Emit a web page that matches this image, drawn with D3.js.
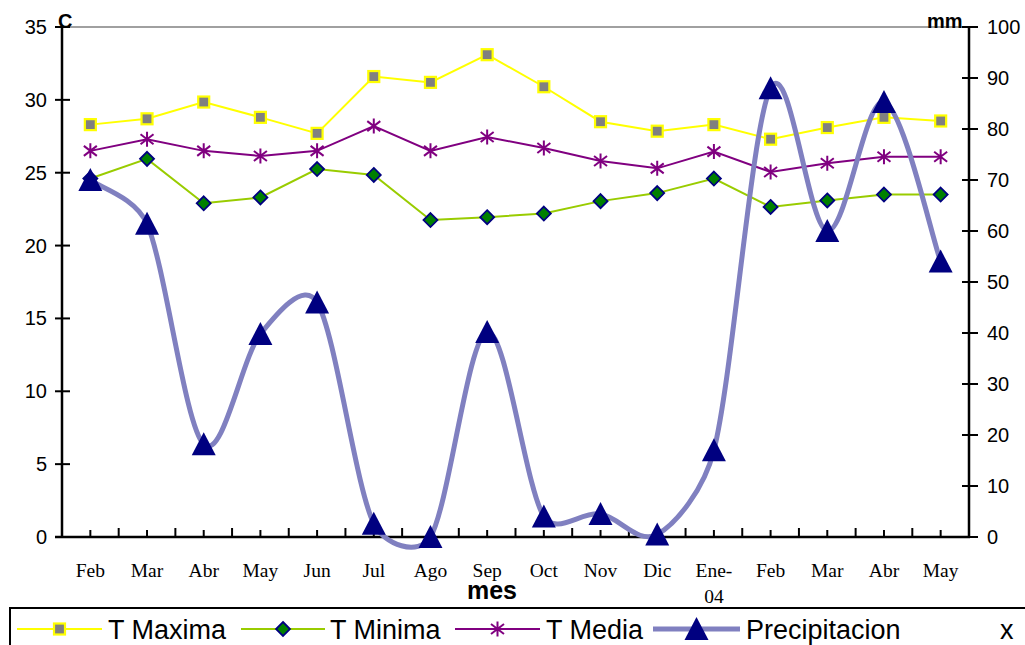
<!DOCTYPE html>
<html>
<head>
<meta charset="utf-8">
<script src="https://cdn.jsdelivr.net/npm/d3@7"></script>
<style>
  html, body { margin: 0; padding: 0; background: #fff; overflow: hidden; }
  svg { display: block; }
</style>
</head>
<body>
<svg id="chart" width="1025" height="645"></svg>
<script>
// Monthly climate record: temperatures (°C, left axis) and rainfall (mm, right axis)
const months = ["Feb", "Mar", "Abr", "May", "Jun", "Jul", "Ago", "Sep", "Oct", "Nov", "Dic", "Ene-04", "Feb", "Mar", "Abr", "May"];
const tMaxima = [28.3, 28.7, 29.85, 28.8, 27.7, 31.6, 31.2, 33.1, 30.9, 28.5, 27.85, 28.3, 27.3, 28.1, 28.8, 28.55];
const tMinima = [24.6, 25.95, 22.9, 23.3, 25.25, 24.85, 21.75, 21.95, 22.2, 23.05, 23.6, 24.6, 22.65, 23.1, 23.5, 23.5];
const tMedia = [26.5, 27.3, 26.5, 26.15, 26.5, 28.2, 26.5, 27.45, 26.7, 25.8, 25.3, 26.45, 25.05, 25.65, 26.1, 26.1];
const precipitacion = [70, 61.4, 18.2, 39.8, 46, 2.6, 0, 40.2, 4, 4.5, 0.5, 17, 88, 60, 85.3, 54];
const leftTicks = [0, 5, 10, 15, 20, 25, 30, 35];
const rightTicks = [0, 10, 20, 30, 40, 50, 60, 70, 80, 90, 100];

const svg = d3.select("#chart");
const plot = { left: 62, right: 969, top: 27, bottom: 537 };
const sans = "'Liberation Sans', Arial, sans-serif";
const serif = "'Liberation Serif', 'Times New Roman', serif";

const x = d3.scaleBand().domain(d3.range(months.length)).range([plot.left, plot.right]).padding(0);
const cx = i => x(i) + x.bandwidth() / 2;
const yL = d3.scaleLinear().domain([0, 35]).range([plot.bottom, plot.top]);
const yR = d3.scaleLinear().domain([0, 100]).range([plot.bottom, plot.top]);

// top border of plot area
svg.append("line")
  .attr("x1", plot.left).attr("x2", plot.right)
  .attr("y1", plot.top).attr("y2", plot.top)
  .attr("stroke", "#808080").attr("stroke-width", 1.5);

// left axis
const gL = svg.append("g");
gL.append("line").attr("x1", plot.left).attr("x2", plot.left)
  .attr("y1", plot.top).attr("y2", plot.bottom)
  .attr("stroke", "#000").attr("stroke-width", 2.5);
gL.selectAll("line.tk").data(leftTicks).join("line").attr("class", "tk")
  .attr("x1", plot.left - 7).attr("x2", plot.left + 8)
  .attr("y1", d => yL(d)).attr("y2", d => yL(d))
  .attr("stroke", "#000").attr("stroke-width", 2);
gL.selectAll("text").data(leftTicks).join("text")
  .attr("x", 47).attr("y", d => yL(d) + 7)
  .attr("text-anchor", "end")
  .attr("font-family", sans).attr("font-size", 20)
  .text(d => d);

// right axis
const gR = svg.append("g");
gR.append("line").attr("x1", plot.right).attr("x2", plot.right)
  .attr("y1", plot.top).attr("y2", plot.bottom)
  .attr("stroke", "#000").attr("stroke-width", 2.5);
gR.selectAll("line.tk").data(rightTicks).join("line").attr("class", "tk")
  .attr("x1", plot.right - 7).attr("x2", plot.right + 9)
  .attr("y1", d => yR(d)).attr("y2", d => yR(d))
  .attr("stroke", "#000").attr("stroke-width", 2);
gR.selectAll("text").data(rightTicks).join("text")
  .attr("x", 987).attr("y", d => yR(d) + 7)
  .attr("text-anchor", "start")
  .attr("font-family", sans).attr("font-size", 20)
  .text(d => d);

// bottom axis with tick marks at category edges and centers
const gB = svg.append("g");
gB.append("line").attr("x1", plot.left - 7).attr("x2", plot.right + 1)
  .attr("y1", plot.bottom).attr("y2", plot.bottom)
  .attr("stroke", "#000").attr("stroke-width", 2.5);
const edgeTicks = d3.range(1, months.length).map(i => x(i));
gB.selectAll("line.edge").data(edgeTicks).join("line").attr("class", "edge")
  .attr("x1", d => d).attr("x2", d => d)
  .attr("y1", plot.bottom).attr("y2", plot.bottom - 9)
  .attr("stroke", "#000").attr("stroke-width", 2);
gB.selectAll("line.mid").data(d3.range(months.length)).join("line").attr("class", "mid")
  .attr("x1", i => cx(i)).attr("x2", i => cx(i))
  .attr("y1", plot.bottom).attr("y2", plot.bottom - 7)
  .attr("stroke", "#000").attr("stroke-width", 2);
const labels = gB.selectAll("text").data(months).join("text")
  .attr("x", (d, i) => cx(i)).attr("y", 577)
  .attr("text-anchor", "middle")
  .attr("font-family", serif).attr("font-size", 19.5);
labels.each(function(d) {
  const parts = d.includes("-") ? [d.split("-")[0] + "-", d.split("-")[1]] : [d];
  const t = d3.select(this);
  parts.forEach((p, k) => {
    t.append("tspan").attr("x", t.attr("x")).attr("dy", k === 0 ? 0 : 26).text(p);
  });
});

// axis titles
svg.append("text").attr("x", 58).attr("y", 28)
  .attr("font-family", sans).attr("font-weight", "bold").attr("font-size", 20).text("C");
svg.append("text").attr("x", 927).attr("y", 28)
  .attr("font-family", sans).attr("font-weight", "bold").attr("font-size", 20).text("mm");
svg.append("text").attr("x", 492).attr("y", 599).attr("text-anchor", "middle")
  .attr("font-family", sans).attr("font-weight", "bold").attr("font-size", 25).text("mes");

// marker drawers
function squareMarker(g, px, py) {
  g.append("rect").attr("x", px - 5.5).attr("y", py - 5.5).attr("width", 11).attr("height", 11)
    .attr("fill", "#808080").attr("stroke", "#FFFF00").attr("stroke-width", 2.2);
}
function diamondMarker(g, px, py) {
  g.append("path").attr("d", `M${px},${py - 7}L${px + 7},${py}L${px},${py + 7}L${px - 7},${py}Z`)
    .attr("fill", "#008000").attr("stroke", "#000080").attr("stroke-width", 1.8);
}
function starMarker(g, px, py) {
  const r = 7.5, dx = 6.5, dy = 5;
  g.append("path")
    .attr("d", `M${px},${py - r}L${px},${py + r}M${px - dx},${py - dy}L${px + dx},${py + dy}M${px - dx},${py + dy}L${px + dx},${py - dy}`)
    .attr("stroke", "#800080").attr("stroke-width", 2).attr("fill", "none");
}
function triangleMarker(g, px, py) {
  g.append("path").attr("d", `M${px},${py - 12}L${px + 12},${py + 11}L${px - 12},${py + 11}Z`)
    .attr("fill", "#000080");
}

// temperature series
const series = [
  { values: tMaxima, color: "#FFFF00", marker: squareMarker },
  { values: tMinima, color: "#99CC00", marker: diamondMarker },
  { values: tMedia, color: "#800080", marker: starMarker }
];
const lineL = d3.line().x((d, i) => cx(i)).y(d => yL(d));
series.forEach(s => {
  const g = svg.append("g");
  g.append("path").attr("d", lineL(s.values)).attr("fill", "none")
    .attr("stroke", s.color).attr("stroke-width", 2);
  s.values.forEach((v, i) => s.marker(g, cx(i), yL(v)));
});

// smoothed spline: 1/6 tangents, with control arms limited relative to segment length
function smoothPath(pts) {
  const p = d3.path();
  const cap = 0.4;
  p.moveTo(pts[0][0], pts[0][1]);
  for (let i = 0; i < pts.length - 1; i++) {
    const p0 = pts[Math.max(i - 1, 0)], p1 = pts[i], p2 = pts[i + 1], p3 = pts[Math.min(i + 2, pts.length - 1)];
    const d12 = Math.hypot(p2[0] - p1[0], p2[1] - p1[1]);
    let v1 = [(p2[0] - p0[0]) / 6, (p2[1] - p0[1]) / 6];
    let v2 = [(p3[0] - p1[0]) / 6, (p3[1] - p1[1]) / 6];
    const l1 = Math.hypot(v1[0], v1[1]), l2 = Math.hypot(v2[0], v2[1]);
    if (l1 > cap * d12) v1 = v1.map(c => c * cap * d12 / l1);
    if (l2 > cap * d12) v2 = v2.map(c => c * cap * d12 / l2);
    p.bezierCurveTo(p1[0] + v1[0], p1[1] + v1[1], p2[0] - v2[0], p2[1] - v2[1], p2[0], p2[1]);
  }
  return p.toString();
}

// rainfall: smoothed line on the right axis
const gP = svg.append("g");
const rainPts = precipitacion.map((v, i) => [cx(i), yR(v)]);
gP.append("path").attr("d", smoothPath(rainPts)).attr("fill", "none")
  .attr("stroke", "#8080C0").attr("stroke-width", 5).attr("stroke-linejoin", "round");
precipitacion.forEach((v, i) => triangleMarker(gP, cx(i), yR(v)));

// legend
const gLeg = svg.append("g");
gLeg.append("rect").attr("x", 10).attr("y", 608).attr("width", 1040).attr("height", 60)
  .attr("fill", "#fff").attr("stroke", "#000").attr("stroke-width", 2);
const legY = 629;
const legendItems = [
  { name: "T Maxima", x0: 17, x1: 102, tx: 108, color: "#FFFF00", w: 2, marker: squareMarker },
  { name: "T Minima", x0: 241, x1: 325, tx: 330, color: "#99CC00", w: 2, marker: diamondMarker },
  { name: "T Media", x0: 455, x1: 540, tx: 546, color: "#800080", w: 2, marker: starMarker },
  { name: "Precipitacion", x0: 653, x1: 740, tx: 746, color: "#8080C0", w: 5, marker: triangleMarker }
];
legendItems.forEach(it => {
  gLeg.append("line").attr("x1", it.x0).attr("x2", it.x1).attr("y1", legY).attr("y2", legY)
    .attr("stroke", it.color).attr("stroke-width", it.w);
  it.marker(gLeg, (it.x0 + it.x1) / 2, legY);
  gLeg.append("text").attr("x", it.tx).attr("y", legY + 10)
    .attr("font-family", sans).attr("font-size", 27).text(it.name);
});
gLeg.append("text").attr("x", 1000).attr("y", legY + 10)
  .attr("font-family", sans).attr("font-size", 27).text("x");
</script>
</body>
</html>
